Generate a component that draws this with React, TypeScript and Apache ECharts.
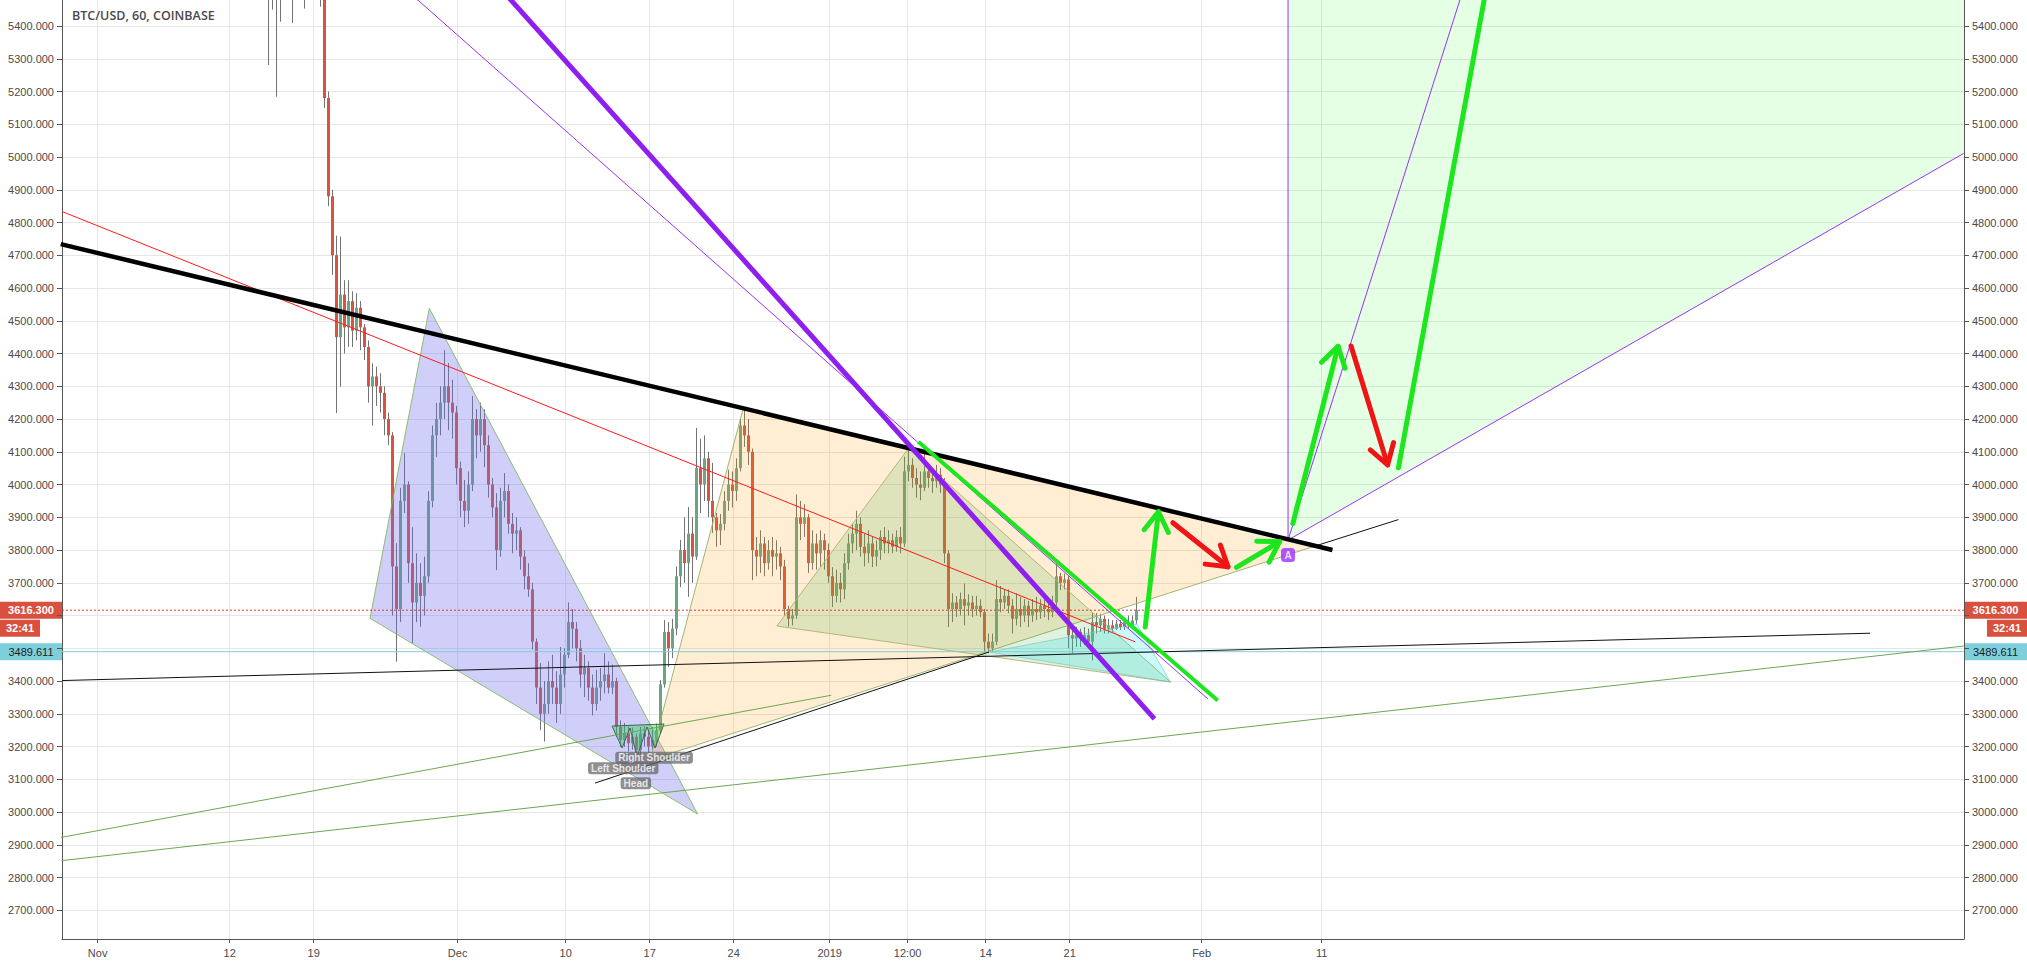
import React, { useEffect, useRef } from "react";
import * as echarts from "echarts";

// x unit: days since 1 Nov 2018 00:00 ; y: USD
const X_MIN = -2.97;
const X_MAX = 155.53;
const Y_MIN = 2612.4;
const Y_MAX = 5479.4;

const xTickDays = [0, 11, 18, 30, 39, 46, 53, 61, 67.5, 74, 81, 92, 102];
const xTickLabels = ["Nov", "12", "19", "Dec", "10", "17", "24", "2019", "12:00", "14", "21", "Feb", "11"];
const yTicks = [2700, 2800, 2900, 3000, 3100, 3200, 3300, 3400, 3500, 3600, 3700, 3800, 3900, 4000, 4100, 4200, 4300, 4400, 4500, 4600, 4700, 4800, 4900, 5000, 5100, 5200, 5300, 5400];
// tick labels hidden under the price tags in the reference
const yHiddenLabels = [3500, 3600];

const chartTitle = "BTC/USD, 60, COINBASE";
const lastPrice = 3616.3;
const lastCountdown = "32:41";
const cyanLevel = 3489.611;

// 8-hour candles: [open, close, low, high]
const firstCandleDay = 14.17;
const candleStepDays = 1 / 3;
const candlesNov = [
  [5650, 5540, 5281, 5700], [5540, 5560, 5450, 5620], [5560, 5520, 5184, 5600],
  [5520, 5560, 5413, 5620], [5560, 5580, 5500, 5640], [5580, 5590, 5520, 5650],
  [5590, 5560, 5409, 5640], [5560, 5580, 5500, 5620], [5580, 5570, 5510, 5630],
  [5570, 5560, 5453, 5610], [5560, 5580, 5520, 5620], [5580, 5570, 5520, 5640],
  [5570, 5580, 5500, 5640], [5580, 5560, 5459, 5650], [5560, 5180, 5150, 5570],
  [5180, 4880, 4850, 5200], [4880, 4700, 4640, 4900], [4700, 4450, 4218, 4760],
  [4450, 4580, 4299, 4757], [4580, 4480, 4400, 4624], [4480, 4560, 4420, 4624],
  [4560, 4470, 4420, 4590], [4470, 4540, 4440, 4584], [4540, 4480, 4410, 4560],
  [4480, 4420, 4380, 4490], [4420, 4300, 4250, 4440], [4300, 4330, 4180, 4370],
  [4330, 4300, 4240, 4360], [4300, 4280, 4220, 4340], [4280, 4200, 4150, 4300],
  [4200, 4150, 4120, 4220], [4150, 3750, 3600, 4160], [3750, 3620, 3459, 3821],
  [3620, 3950, 3580, 3990], [3950, 4000, 3913, 4096], [4000, 3760, 3700, 4010],
  [3760, 3640, 3516, 3870], [3640, 3700, 3580, 3790], [3700, 3660, 3566, 3760],
  [3660, 3720, 3600, 3780], [3720, 3950, 3700, 3980], [3950, 4150, 3930, 4180],
  [4150, 4200, 4084, 4249], [4200, 4250, 4150, 4300], [4250, 4300, 4200, 4410],
  [4300, 4250, 4166, 4371], [4250, 4220, 4140, 4320], [4220, 4050, 4000, 4240],
  [4050, 3950, 3900, 4070], [3950, 3920, 3870, 4014], [3920, 4000, 3880, 4040],
];
const candlesDec = [
  [4000, 4200, 3980, 4270], [4200, 4150, 4080, 4230], [4150, 4200, 4100, 4250],
  [4200, 4120, 4053, 4230], [4120, 4000, 3960, 4150], [4000, 3930, 3900, 4020],
  [3930, 3800, 3739, 3974], [3800, 3950, 3780, 3990], [3950, 3980, 3900, 4035],
  [3980, 3880, 3850, 4000], [3880, 3850, 3790, 3913], [3850, 3860, 3800, 3900],
  [3860, 3780, 3740, 3870], [3780, 3720, 3680, 3800], [3720, 3680, 3657, 3760],
  [3680, 3520, 3496, 3700], [3520, 3380, 3330, 3530], [3380, 3300, 3250, 3455],
  [3300, 3330, 3215, 3400], [3330, 3400, 3300, 3460], [3400, 3380, 3330, 3480],
  [3380, 3330, 3272, 3430], [3330, 3420, 3300, 3504], [3420, 3480, 3380, 3500],
  [3480, 3580, 3470, 3640], [3580, 3560, 3500, 3620], [3560, 3500, 3460, 3580],
  [3500, 3420, 3380, 3525], [3420, 3440, 3351, 3480], [3440, 3380, 3340, 3460],
  [3380, 3330, 3295, 3420], [3330, 3380, 3310, 3434], [3380, 3400, 3340, 3440],
  [3400, 3420, 3362, 3485], [3420, 3380, 3362, 3460], [3380, 3400, 3360, 3450],
  [3400, 3260, 3230, 3410], [3260, 3220, 3199, 3280], [3220, 3240, 3199, 3272],
  [3240, 3210, 3185, 3262], [3210, 3230, 3190, 3258], [3230, 3190, 3150, 3240],
  [3190, 3240, 3170, 3260], [3240, 3230, 3200, 3262], [3230, 3200, 3180, 3250],
  [3200, 3220, 3189, 3260], [3220, 3250, 3200, 3270], [3250, 3390, 3240, 3403],
  [3390, 3550, 3380, 3586], [3550, 3500, 3443, 3580], [3500, 3560, 3470, 3590],
  [3560, 3720, 3540, 3750], [3720, 3800, 3687, 3831], [3800, 3760, 3700, 3900],
  [3760, 3850, 3657, 3931], [3850, 3780, 3700, 3900], [3780, 4050, 3770, 4173],
  [4050, 4000, 3913, 4140], [4000, 4080, 3950, 4150], [4080, 3950, 3900, 4100],
  [3950, 3900, 3852, 4066], [3900, 3860, 3810, 3913], [3860, 3880, 3815, 3910],
  [3880, 3950, 3860, 3980], [3950, 4000, 3920, 4045], [4000, 3980, 3930, 4040],
  [3980, 4050, 3950, 4080], [4050, 4180, 4040, 4200], [4180, 4150, 4115, 4237],
  [4150, 4100, 4060, 4200], [4100, 3800, 3708, 4110], [3800, 3780, 3720, 3840],
  [3780, 3820, 3730, 3860], [3820, 3760, 3720, 3840], [3760, 3800, 3740, 3830],
  [3800, 3780, 3720, 3840], [3780, 3790, 3740, 3830], [3790, 3750, 3708, 3810],
  [3750, 3620, 3600, 3770], [3620, 3590, 3566, 3630], [3590, 3600, 3570, 3620],
  [3600, 3900, 3590, 3970], [3900, 3880, 3830, 3950], [3880, 3900, 3840, 3940],
  [3900, 3760, 3730, 3910], [3760, 3820, 3740, 3860], [3820, 3790, 3740, 3850],
  [3790, 3830, 3750, 3860], [3830, 3800, 3740, 3850], [3800, 3720, 3700, 3820],
];
const candlesJan = [
  [3720, 3660, 3626, 3748], [3660, 3700, 3640, 3740], [3700, 3680, 3640, 3730],
  [3680, 3760, 3650, 3790], [3760, 3820, 3740, 3850], [3820, 3850, 3790, 3880],
  [3850, 3880, 3800, 3920], [3880, 3810, 3780, 3900], [3810, 3790, 3750, 3850],
  [3790, 3820, 3760, 3860], [3820, 3780, 3748, 3840], [3780, 3800, 3750, 3830],
  [3800, 3840, 3770, 3860], [3840, 3820, 3790, 3870], [3820, 3830, 3790, 3860],
  [3830, 3810, 3790, 3850], [3810, 3840, 3795, 3860], [3840, 3820, 3790, 3870],
  [3820, 4040, 3810, 4085], [4040, 4060, 4010, 4110], [4060, 4020, 3990, 4080],
  [4020, 4000, 3960, 4050], [4000, 3990, 3952, 4040], [3990, 4040, 3980, 4121],
  [4040, 4020, 3990, 4066], [4020, 4010, 3974, 4050], [4010, 4030, 3990, 4060],
  [4030, 4000, 3974, 4050], [4000, 3790, 3760, 4020], [3790, 3620, 3565, 3800],
  [3620, 3640, 3580, 3668], [3640, 3620, 3595, 3660], [3620, 3650, 3600, 3670],
  [3650, 3630, 3570, 3698], [3630, 3640, 3600, 3665], [3640, 3620, 3595, 3660],
  [3620, 3630, 3600, 3660], [3630, 3610, 3595, 3650], [3610, 3520, 3485, 3620],
  [3520, 3500, 3485, 3545], [3500, 3520, 3490, 3545], [3520, 3650, 3510, 3708],
  [3650, 3640, 3610, 3690], [3640, 3660, 3620, 3680], [3660, 3630, 3607, 3680],
  [3630, 3590, 3545, 3650], [3590, 3620, 3570, 3668], [3620, 3600, 3565, 3657],
  [3600, 3630, 3580, 3650], [3630, 3600, 3565, 3645], [3600, 3620, 3580, 3650],
  [3620, 3610, 3586, 3657], [3610, 3630, 3590, 3650], [3630, 3620, 3595, 3650],
  [3620, 3610, 3586, 3640], [3610, 3640, 3595, 3660], [3640, 3720, 3630, 3760],
  [3720, 3700, 3678, 3730], [3700, 3710, 3680, 3728], [3710, 3540, 3500, 3720],
  [3540, 3530, 3485, 3565], [3530, 3550, 3504, 3565], [3550, 3530, 3504, 3560],
  [3530, 3540, 3510, 3565], [3540, 3520, 3504, 3560], [3520, 3580, 3463, 3608],
  [3580, 3570, 3545, 3608], [3570, 3590, 3550, 3605], [3590, 3560, 3545, 3600],
  [3560, 3570, 3545, 3590], [3570, 3560, 3550, 3586], [3560, 3575, 3556, 3586],
  [3575, 3565, 3556, 3586], [3565, 3580, 3556, 3590], [3580, 3570, 3560, 3600],
  [3570, 3585, 3560, 3600], [3585, 3616.3, 3575, 3657],
];

// drawings, points as [day, price]
const thickBlack = [[-3.07, 4734], [102.9, 3800]];
const redTrend = [[-2.97, 4833.6], [86.45, 3520]];
const purpleThick = [[30, 5661], [88.07, 3284.6]];
const purpleThin = [[20, 5696], [92.53, 3345]];
const limeLine = [[68.39, 4130.7], [93.34, 3340.8]];
const blackLong = [[-2.97, 3401.5], [147.7, 3546]];
const blackNeck = [[41.45, 3088.5], [74.28, 3488.5]];
const blackTail = [[101.7, 3815], [108.4, 3893]];
const greenLow = [[-3.0, 2851.6], [155.5, 3506.9]];
const greenHigh = [[-3.07, 2922.4], [61.13, 3356.6]];
const fanVertical = [[99.2, 3830.5], [99.2, 5600]];
const fanMid = [[99.2, 3830.5], [115.1, 5661]];
const fanLow = [[99.2, 3830.5], [155.5, 5011]];
const fanFill = [[99.2, 3830.5], [99.2, 5600], [160, 5600], [160, 5105]];

const lavenderTri = [[22.7, 3591.4], [27.64, 4538], [50.0, 2994]];
const orangeTri = [[46.03, 3159], [53.8, 4232.7], [101.7, 3815]];
const greenTri = [[56.6, 3568], [67.57, 4110.5], [89.4, 3397]];
const cyanTri = [[74.28, 3488.5], [86.6, 3574], [89.4, 3397]];

const hsPoints = [[42.87, 3262.6], [43.7, 3195.4], [44.37, 3256.5], [44.95, 3167.9], [45.78, 3259.5], [46.45, 3195.4], [47.2, 3268.7]];
const hsLabels = [
  { text: "Right Shoulder", at: [46.37, 3166] },
  { text: "Left Shoulder", at: [43.8, 3133.4] },
  { text: "Head", at: [44.85, 3087.6] },
];
const markerA = [99.2, 3784.7];

const greenArrows = [
  [[87.3, 3565], [88.4, 3917]],
  [[94.9, 3747], [98.5, 3825.4]],
  [[99.6, 3881], [103.37, 4422]],
  [[108.4, 4051], [116.0, 5571]],
];
const redArrows = [
  [[89.6, 3883.4], [94.2, 3749]],
  [[104.45, 4423], [107.5, 4060]],
];

const AXIS_FONT = "'Liberation Sans', Arial, sans-serif";

function lineSeries(pts: number[][], color: string, width: number, z: number, type: any = "solid") {
  return {
    type: "line",
    data: pts,
    symbol: "none",
    silent: true,
    clip: true,
    z,
    lineStyle: { color, width, type },
    animation: false,
  };
}

function polySeries(pts: number[][], fill: string, stroke: string, z: number) {
  return {
    type: "custom",
    clip: true,
    silent: true,
    z,
    data: [pts[0]],
    encode: { x: 0, y: 1 },
    renderItem: (_p: any, api: any) => ({
      type: "polygon",
      shape: { points: pts.map((p) => api.coord(p)) },
      style: { fill, stroke, lineWidth: 1 },
    }),
  };
}

function arrowSeries(list: number[][][], color: string, z: number) {
  return {
    type: "custom",
    clip: true,
    silent: true,
    z,
    data: list.map((a) => [a[0][0], a[0][1], a[1][0], a[1][1]]),
    encode: { x: [0, 2], y: [1, 3] },
    renderItem: (_p: any, api: any) => {
      const a = api.coord([api.value(0), api.value(1)]);
      const b = api.coord([api.value(2), api.value(3)]);
      const ang = Math.atan2(b[1] - a[1], b[0] - a[0]);
      const L = 23;
      const s = (32 * Math.PI) / 180;
      const w1 = [b[0] - L * Math.cos(ang - s), b[1] - L * Math.sin(ang - s)];
      const w2 = [b[0] - L * Math.cos(ang + s), b[1] - L * Math.sin(ang + s)];
      const st = { stroke: color, lineWidth: 5, lineCap: "round", fill: null };
      return {
        type: "group",
        children: [
          { type: "line", shape: { x1: a[0], y1: a[1], x2: b[0], y2: b[1] }, style: st },
          { type: "polyline", shape: { points: [w1, b, w2] }, style: { ...st, lineJoin: "round" } },
        ],
      };
    },
  };
}

export default function App() {
  const ref = useRef<HTMLDivElement>(null);
  useEffect(() => {
    document.body.style.margin = "0";
    const chart = echarts.init(ref.current!, null, { renderer: "svg" });
    const candles = [...candlesNov, ...candlesDec, ...candlesJan].map((c, i) => [firstCandleDay + i * candleStepDays, ...c]);
    const yLabelValues = yTicks.filter((v) => !yHiddenLabels.includes(v));

    const yAxisBase = (pos: string) => ({
      type: "value",
      position: pos,
      min: Y_MIN,
      max: Y_MAX,
      axisLine: { show: true, onZero: false, lineStyle: { color: "#555", width: 1 } },
      axisTick: { show: true, length: 5, lineStyle: { color: "#555" }, customValues: yTicks },
      axisLabel: {
        customValues: yLabelValues,
        formatter: (v: number) => v.toFixed(3),
        fontSize: 11,
        fontFamily: AXIS_FONT,
        color: "#4a4a4a",
        margin: 8,
      },
      splitLine: { show: pos === "left", lineStyle: { color: "#e6e6e6", width: 1 } },
    });

    const option: any = {
      animation: false,
      backgroundColor: "#ffffff",
      grid: { left: 62, right: 63, top: 0, bottom: 25, containLabel: false },
      xAxis: {
        type: "value",
        min: X_MIN,
        max: X_MAX,
        axisLine: { show: true, onZero: false, lineStyle: { color: "#555", width: 1 } },
        axisTick: { show: true, length: 4, lineStyle: { color: "#555" }, customValues: xTickDays },
        axisLabel: {
          customValues: xTickDays,
          formatter: (v: number) => {
            const i = xTickDays.findIndex((d) => Math.abs(d - v) < 1e-6);
            return i >= 0 ? xTickLabels[i] : "";
          },
          fontSize: 11,
          fontFamily: AXIS_FONT,
          color: "#4a4a4a",
          margin: 8,
        },
        splitLine: { show: true, lineStyle: { color: "#e6e6e6", width: 1 } },
      },
      yAxis: [yAxisBase("left"), yAxisBase("right")],
      series: [
        // horizontal price lines
        lineSeries([[X_MIN, cyanLevel], [X_MAX, cyanLevel]], "#7ccfdc", 1, 3),
        lineSeries([[X_MIN, lastPrice], [X_MAX, lastPrice]], "#e8392e", 1, 3, [2, 2]),
        // candles
        {
          type: "custom",
          clip: true,
          silent: true,
          z: 2,
          data: candles,
          encode: { x: 0, y: [1, 2, 3, 4] },
          renderItem: (_p: any, api: any) => {
            const x = api.value(0);
            const o = api.value(1), c = api.value(2), l = api.value(3), h = api.value(4);
            const po = api.coord([x, o]);
            const pc = api.coord([x, c]);
            const pl = api.coord([x, l]);
            const ph = api.coord([x, h]);
            const px = Math.round(po[0]) + 0.5;
            const top = Math.min(po[1], pc[1]);
            const bh = Math.max(1, Math.abs(po[1] - pc[1]));
            return {
              type: "group",
              children: [
                { type: "line", shape: { x1: px, y1: ph[1], x2: px, y2: pl[1] }, style: { stroke: "#737375", lineWidth: 1 } },
                { type: "rect", shape: { x: px - 1.5, y: top, width: 3, height: bh }, style: { fill: c >= o ? "#6ba583" : "#d75442" } },
              ],
            };
          },
        },
        // filled shapes
        polySeries(fanFill, "rgba(0,255,0,0.1)", "none", 3),
        polySeries(lavenderTri, "rgba(110,110,240,0.33)", "rgba(130,185,95,0.9)", 3),
        polySeries(orangeTri, "rgba(255,152,0,0.17)", "rgba(150,175,100,0.9)", 3),
        polySeries(greenTri, "rgba(76,175,80,0.18)", "rgba(170,180,110,0.9)", 3),
        polySeries(cyanTri, "rgba(0,230,230,0.2)", "rgba(120,190,190,0.6)", 3),
        polySeries(hsPoints, "rgba(40,200,90,0.4)", "rgba(60,90,60,0.9)", 4),
        // trend lines
        lineSeries(greenLow, "#6aa84f", 1, 4),
        lineSeries(greenHigh, "#6aa84f", 1, 4),
        lineSeries(blackLong, "#111111", 1, 4),
        lineSeries(blackNeck, "#111111", 1, 4),
        lineSeries(blackTail, "#111111", 1, 4),
        lineSeries(redTrend, "#ff1a1a", 1, 4),
        lineSeries(purpleThin, "#9b30ff", 1, 4),
        lineSeries(fanVertical, "#9b30ff", 1, 4),
        lineSeries(fanMid, "#9b30ff", 1, 4),
        lineSeries(fanLow, "#9b30ff", 1, 4),
        lineSeries(thickBlack, "#000000", 4.5, 5),
        lineSeries(purpleThick, "#8f1ff0", 5, 5),
        lineSeries(limeLine, "#1ee61e", 4, 5),
        arrowSeries(greenArrows, "#1ee61e", 6),
        arrowSeries(redArrows, "#f01414", 6),
        // pattern labels
        {
          type: "scatter",
          silent: true,
          z: 7,
          symbolSize: 0,
          data: hsLabels.map((l) => ({ value: l.at, name: l.text })),
          label: {
            show: true,
            position: "inside",
            formatter: (p: any) => p.name,
            color: "#ffffff",
            fontSize: 10,
            fontWeight: "bold",
            fontFamily: AXIS_FONT,
            backgroundColor: "rgba(100,100,100,0.9)",
            padding: [1, 3],
            borderRadius: 3,
          },
        },
        {
          type: "scatter",
          silent: true,
          z: 7,
          symbol: "roundRect",
          symbolSize: 14,
          itemStyle: { color: "#9b30ff" },
          data: [markerA],
          label: { show: true, position: "inside", formatter: "A", color: "#fff", fontSize: 10, fontWeight: "bold", fontFamily: AXIS_FONT },
        },
      ],
    };
    chart.setOption(option);

    const yr = chart.convertToPixel({ yAxisIndex: 0 }, lastPrice) as number;
    const yc = chart.convertToPixel({ yAxisIndex: 0 }, cyanLevel) as number;
    const tag = (x: number, y: number, w: number, h: number, fill: string, text: string, color: string, bold: boolean) => ({
      type: "group",
      z: 100,
      children: [
        { type: "rect", shape: { x, y, width: w, height: h }, style: { fill } },
        {
          type: "text",
          x: x + w / 2,
          y: y + h / 2,
          style: { text, fill: color, font: `${bold ? "bold " : ""}11px ${AXIS_FONT}`, align: "center", verticalAlign: "middle" },
        },
      ],
    });
    chart.setOption({
      graphic: [
        {
          type: "text",
          left: 72,
          top: 9,
          z: 100,
          style: { text: chartTitle, fill: "#4a4a4a", font: "600 12.5px 'Open Sans', sans-serif" },
        },
        tag(0, yr - 8.5, 62, 17, "#d9503f", lastPrice.toFixed(3), "#ffffff", true),
        tag(0, yr + 9.5, 40, 17, "#d9503f", lastCountdown, "#ffffff", true),
        tag(0, yc - 8.5, 62, 17, "#7ecfdc", cyanLevel.toFixed(3), "#1e1e1e", false),
        tag(1964, yr - 8.5, 63, 17, "#d9503f", lastPrice.toFixed(3), "#ffffff", true),
        tag(1987, yr + 9.5, 40, 17, "#d9503f", lastCountdown, "#ffffff", true),
        tag(1964, yc - 8.5, 63, 17, "#7ecfdc", cyanLevel.toFixed(3), "#1e1e1e", false),
      ],
    });
    return () => chart.dispose();
  }, []);
  return <div ref={ref} style={{ width: 2027, height: 964 }} />;
}
